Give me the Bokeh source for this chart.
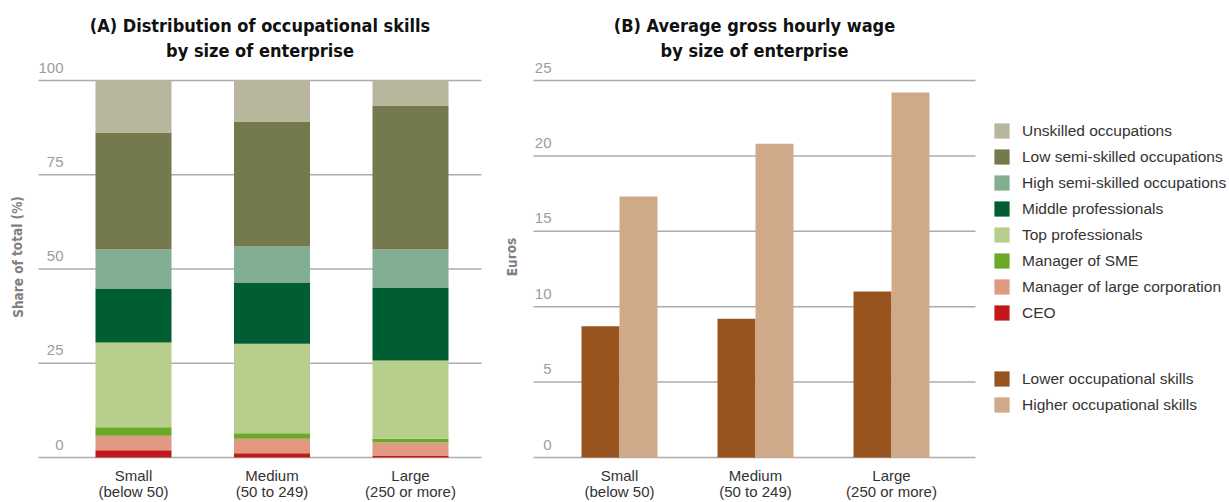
from bokeh.plotting import figure
from bokeh.models import Range1d, ColumnDataSource, Legend, LegendItem
from bokeh.core.properties import value
from bokeh.embed import file_html
from bokeh.resources import INLINE

# ---------------- data ----------------
categories = ["Small", "Medium", "Large"]
category_notes = ["(below 50)", "(50 to 249)", "(250 or more)"]

occupations = ["CEO", "Manager of large corporation", "Manager of SME",
               "Top professionals", "Middle professionals",
               "High semi-skilled occupations", "Low semi-skilled occupations",
               "Unskilled occupations"]
ceo = [1.9, 1.1, 0.5]
manager_large = [3.9, 3.9, 3.5]
manager_sme = [2.2, 1.4, 1.0]
top_professionals = [22.5, 23.8, 20.7]
middle_professionals = [14.3, 16.2, 19.4]
high_semi_skilled = [10.4, 9.6, 10.1]
low_semi_skilled = [31.0, 33.1, 38.2]
unskilled = [13.8, 10.9, 6.6]

wage_series = ["Lower occupational skills", "Higher occupational skills"]
wage_lower = [8.7, 9.2, 11.0]
wage_higher = [17.3, 20.8, 24.2]

ticks_a = [0, 25, 50, 75, 100]
ticks_b = [0, 5, 10, 15, 20, 25]

title_a = ["(A) Distribution of occupational skills", "by size of enterprise"]
title_b = ["(B) Average gross hourly wage", "by size of enterprise"]

# ---------------- style ----------------
occ_colors = ["#c11919", "#e19982", "#6aa828", "#b7ce8c", "#005e32",
              "#82ae92", "#747a4d", "#b8b79e"]
wage_colors = ["#98531e", "#cfa988"]
GRID = "#acacac"
TICK = "#9c9c9c"
DARK = "#333333"
NARROW = "Liberation Sans Narrow, DejaVu Sans Condensed, sans-serif"
REG = "Liberation Sans, Arial, sans-serif"

# ---------------- layout (pixel geometry) ----------------
W, H = 1229, 502
ORG = 0
ZERO_Y = 457                # baseline (page px)
A_C1, A_PITCH = 133, 138.5  # first category centre / spacing
B_C1, B_PITCH = 619, 136
A_PXU = (457 - 80) / 100.0
B_PXU = (457 - 80) / 25.0

TICK_DY = -13
CAT_DY = [18, 34]
TITLE_DY = [-55, -30]


def xr(c1, pitch):
    s = 1 - (c1 - ORG) / pitch
    return Range1d(s, s + W / pitch)


def yr(pxu):
    return Range1d(-(ORG + H - ZERO_Y) / pxu, (ZERO_Y - ORG) / pxu)


def px_to_x(px, c1, pitch):
    return 1 + (px - c1) / pitch


p = figure(width=W, height=H, x_range=xr(A_C1, A_PITCH), y_range=yr(A_PXU),
           output_backend="svg", toolbar_location=None, min_border=0,
           x_axis_location=None, y_axis_location=None)
p.extra_x_ranges = {"b": xr(B_C1, B_PITCH)}
p.extra_y_ranges = {"b": yr(B_PXU)}
p.outline_line_color = None
p.grid.visible = False
p.background_fill_color = "white"

xs = [i + 1 for i in range(len(categories))]

# ---------- panel A ----------
ga0, ga1 = px_to_x(38, A_C1, A_PITCH), px_to_x(481, A_C1, A_PITCH)
p.segment(x0=[ga0] * len(ticks_a), x1=[ga1] * len(ticks_a), y0=ticks_a, y1=ticks_a,
          line_color=GRID, line_width=1.5)
src_a = ColumnDataSource(dict(x=xs, CEO=ceo, ML=manager_large, SME=manager_sme,
                              TP=top_professionals, MP=middle_professionals,
                              HS=high_semi_skilled, LS=low_semi_skilled, U=unskilled))
stack_keys = ["CEO", "ML", "SME", "TP", "MP", "HS", "LS", "U"]
rs_a = p.vbar_stack(stack_keys, x="x", width=76 / A_PITCH, fill_color=occ_colors,
                    line_color=None, source=src_a)

p.text(x=[ga0] * len(ticks_a), y=ticks_a, text=[str(t) for t in ticks_a],
       x_offset=25, y_offset=TICK_DY, text_align="right", text_baseline="alphabetic",
       text_font=value(REG), text_font_size=value("15px"), text_color=TICK)
p.text(x=xs, y=[0] * 3, text=categories, y_offset=CAT_DY[0], text_align="center",
       text_baseline="alphabetic", text_font=value(REG), text_font_size=value("15px"),
       text_color=DARK)
p.text(x=xs, y=[0] * 3, text=category_notes, y_offset=CAT_DY[1], text_align="center",
       text_baseline="alphabetic", text_font=value(REG), text_font_size=value("15px"),
       text_color=DARK)
p.text(x=[(ga0 + ga1) / 2] * 2, y=[ticks_a[-1]] * 2, text=title_a, y_offset=TITLE_DY,
       text_align="center", text_baseline="alphabetic", text_font=value(NARROW),
       text_font_style="bold", text_font_size=value("18px"), text_color="#111111")
p.text(x=[ga0], y=[(ticks_a[0] + ticks_a[-1]) / 2], text=["Share of total (%)"],
       x_offset=-21, y_offset=-12, angle=1.5708, text_align="center",
       text_baseline="middle", text_font=value(NARROW), text_font_style="bold",
       text_font_size=value("13.5px"), text_color="#808080")

# ---------- panel B ----------
gb0, gb1 = px_to_x(533, B_C1, B_PITCH), px_to_x(975, B_C1, B_PITCH)
p.segment(x0=[gb0] * len(ticks_b), x1=[gb1] * len(ticks_b), y0=ticks_b, y1=ticks_b,
          line_color=GRID, line_width=1.5, x_range_name="b", y_range_name="b")
bw = 38 / B_PITCH
src_b = ColumnDataSource(dict(xl=[x - bw / 2 for x in xs], xh=[x + bw / 2 for x in xs],
                              lower=wage_lower, higher=wage_higher))
r_low = p.vbar(x="xl", top="lower", bottom=0, width=bw, fill_color=wage_colors[0],
               line_color=None, source=src_b, x_range_name="b", y_range_name="b")
r_high = p.vbar(x="xh", top="higher", bottom=0, width=bw, fill_color=wage_colors[1],
                line_color=None, source=src_b, x_range_name="b", y_range_name="b")

p.text(x=[gb0] * len(ticks_b), y=ticks_b, text=[str(t) for t in ticks_b],
       x_offset=18, y_offset=TICK_DY, text_align="right", text_baseline="alphabetic",
       text_font=value(REG), text_font_size=value("15px"), text_color=TICK,
       x_range_name="b", y_range_name="b")
p.text(x=xs, y=[0] * 3, text=categories, y_offset=CAT_DY[0], text_align="center",
       text_baseline="alphabetic", text_font=value(REG), text_font_size=value("15px"),
       text_color=DARK, x_range_name="b", y_range_name="b")
p.text(x=xs, y=[0] * 3, text=category_notes, y_offset=CAT_DY[1], text_align="center",
       text_baseline="alphabetic", text_font=value(REG), text_font_size=value("15px"),
       text_color=DARK, x_range_name="b", y_range_name="b")
p.text(x=[(gb0 + gb1) / 2] * 2, y=[ticks_b[-1]] * 2, text=title_b, y_offset=TITLE_DY,
       text_align="center", text_baseline="alphabetic", text_font=value(NARROW),
       text_font_style="bold", text_font_size=value("18px"), text_color="#111111",
       x_range_name="b", y_range_name="b")
p.text(x=[gb0], y=[(ticks_b[0] + ticks_b[-1]) / 2], text=["Euros"],
       x_offset=-22, y_offset=-12, angle=1.5708, text_align="center",
       text_baseline="middle", text_font=value(NARROW), text_font_style="bold",
       text_font_size=value("13.5px"), text_color="#808080",
       x_range_name="b", y_range_name="b")

# ---------- legends ----------
def make_legend(items, loc):
    lg = Legend(items=items, location=loc, orientation="vertical",
                glyph_width=19, glyph_height=19, label_height=19, spacing=7,
                label_standoff=11, padding=0, margin=0,
                border_line_color=None, background_fill_alpha=0,
                label_text_font=REG, label_text_font_size="15.5px",
                label_text_color=DARK, label_text_baseline="middle")
    p.add_layout(lg)
    return lg


items_a = [LegendItem(label=occupations[i], renderers=[rs_a[i]])
           for i in reversed(range(len(occupations)))]
items_b = [LegendItem(label=wage_series[0], renderers=[r_low]),
           LegendItem(label=wage_series[1], renderers=[r_high])]
make_legend(items_a, (992, 180))
make_legend(items_b, (992, 88))

open("out.html", "w").write(file_html(p, INLINE))
